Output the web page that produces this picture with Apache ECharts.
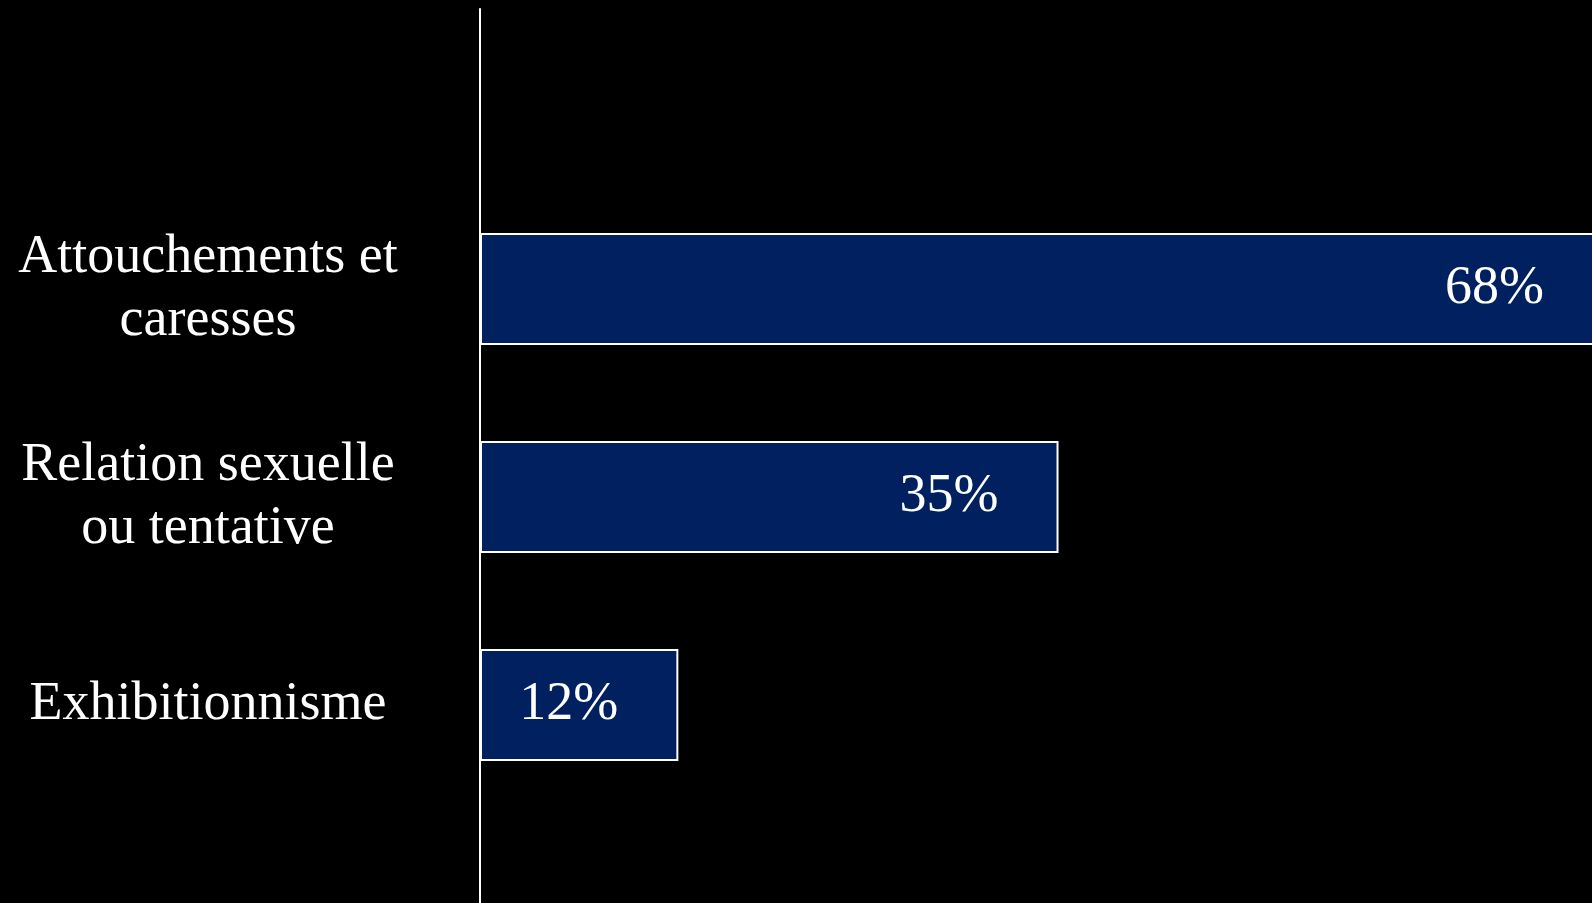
<!DOCTYPE html>
<html>
<head>
<meta charset="utf-8">
<style>
  html, body { margin: 0; padding: 0; background: #000; }
  #main { width: 1592px; height: 903px; }
</style>
<script src="https://cdn.jsdelivr.net/npm/echarts@6/dist/echarts.min.js"></script>
</head>
<body>
<div id="main"></div>
<script>
// categories and values (percent)
var categories = ['Attouchements et\ncaresses', 'Relation sexuelle\nou tentative', 'Exhibitionnisme'];
var values = [68, 35, 12];

var myChart = echarts.init(document.getElementById('main'));

var option = {
    backgroundColor: '#000',
    animation: false,
    grid: [
        // bars (the longest bar runs off the right edge)
        { left: 480, right: -12, top: 185, bottom: 94, outerBoundsMode: 'none' },
        // full height axis line
        { left: 480, right: -12, top: 9, bottom: -2, outerBoundsMode: 'none' }
    ],
    xAxis: [
        { type: 'value', gridIndex: 0, min: 0, max: 68, show: false },
        { type: 'value', gridIndex: 1, min: 0, max: 68, show: false }
    ],
    yAxis: [
        {
            type: 'category',
            gridIndex: 0,
            inverse: true,
            data: categories,
            axisLine: { show: false },
            axisTick: { show: false },
            axisLabel: {
                color: '#fff',
                fontFamily: '"Liberation Serif", "Times New Roman", serif',
                fontSize: 54,
                lineHeight: 63,
                align: 'center',
                margin: 272
            }
        },
        {
            type: 'category',
            gridIndex: 1,
            data: [''],
            axisLine: { show: true, lineStyle: { color: '#fff', width: 2 } },
            axisTick: { show: false },
            axisLabel: { show: false }
        }
    ],
    series: [
        {
            type: 'bar',
            xAxisIndex: 0,
            yAxisIndex: 0,
            data: values,
            barWidth: 112,
            itemStyle: {
                color: '#002060',
                borderColor: '#fff',
                borderWidth: 2
            },
            label: {
                show: true,
                position: 'insideRight',
                distance: 60,
                color: '#fff',
                fontFamily: '"Liberation Serif", "Times New Roman", serif',
                fontSize: 54,
                formatter: '{c}%'
            }
        }
    ]
};

myChart.setOption(option);
</script>
</body>
</html>
